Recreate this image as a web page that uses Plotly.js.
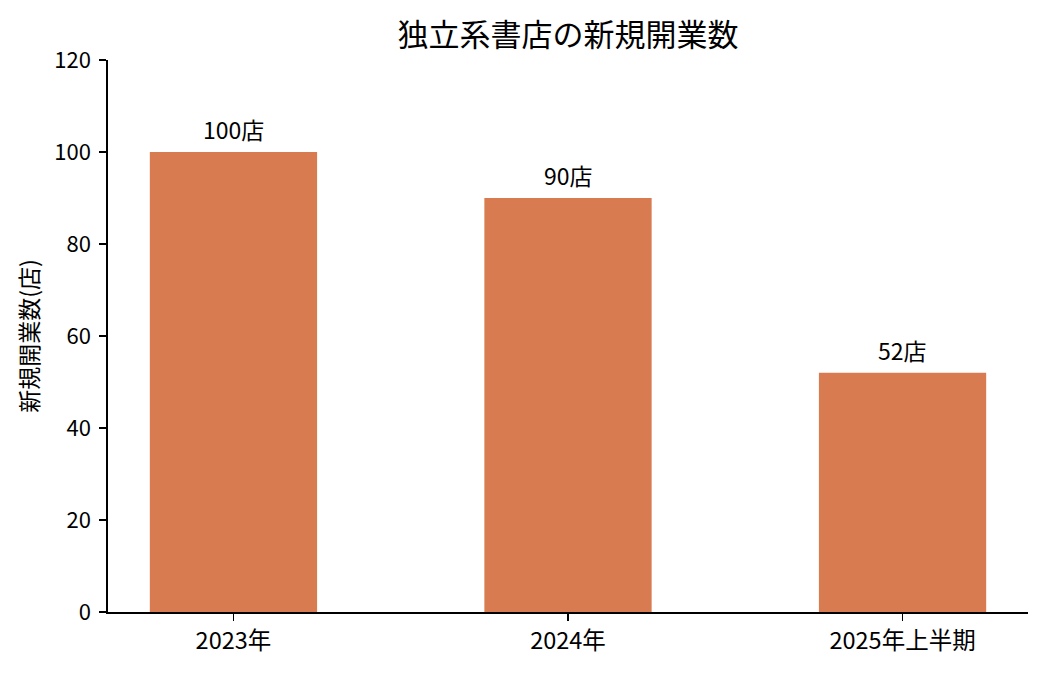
<!DOCTYPE html>
<html>
<head>
<meta charset="utf-8">
<script src="https://cdn.plot.ly/plotly-3.0.1.min.js"></script>
<style>html,body{margin:0;padding:0;background:#fff}#chart{width:1050px;height:675px}</style>
</head>
<body>
<div id="chart"></div>
<script>
const categories = ["2023年", "2024年", "2025年上半期"];
const openings = [100, 90, 52];
const labelSuffix = "店";
const yTicks = [0, 20, 40, 60, 80, 100, 120];

const FONT = '"Noto Sans CJK JP", "Noto Sans", sans-serif';
const BAR_COLOR = '#D87B50';

const trace = {
  type: 'bar',
  x: categories,
  y: openings,
  width: 0.5,
  marker: {color: BAR_COLOR, line: {width: 0}},
  hoverinfo: 'x+y'
};

const annotations = categories.map((c, i) => ({
  x: c, y: openings[i], xref: 'x', yref: 'y',
  text: openings[i] + labelSuffix,
  showarrow: false, yanchor: 'bottom', yshift: 4,
  font: {family: FONT, size: 23, color: '#000'}
}));

const layout = {
  width: 1050, height: 675,
  paper_bgcolor: '#fff', plot_bgcolor: '#fff',
  margin: {l: 108, r: 22, t: 60, b: 63},
  title: {text: '独立系書店の新規開業数', font: {family: FONT, size: 31, color: '#000'}, xref: 'paper', x: 0.5, xanchor: 'center', y: 0.948, yanchor: 'middle'},
  showlegend: false,
  xaxis: {
    type: 'category',
    range: [-0.375, 2.375],
    showline: true, linecolor: '#000', linewidth: 1.6,
    ticks: 'outside', ticklen: 7, tickwidth: 1.6, tickcolor: '#000',
    tickfont: {family: FONT, size: 23.5, color: '#000'},
    showgrid: false, zeroline: false, fixedrange: true
  },
  yaxis: {
    range: [0, 120],
    tickvals: yTicks,
    ticktext: yTicks.map(String),
    showline: true, linecolor: '#000', linewidth: 1.6,
    ticks: 'outside', ticklen: 7, tickwidth: 1.6, tickcolor: '#000',
    tickfont: {family: FONT, size: 22, color: '#000'},
    ticklabelstandoff: 4,
    showgrid: false, zeroline: false, fixedrange: true,
    title: {text: '新規開業数(店)', font: {family: FONT, size: 23, color: '#000'}, standoff: 9}
  },
  annotations: annotations
};

Plotly.newPlot('chart', [trace], layout, {displayModeBar: false, staticPlot: true});
</script>
</body>
</html>
